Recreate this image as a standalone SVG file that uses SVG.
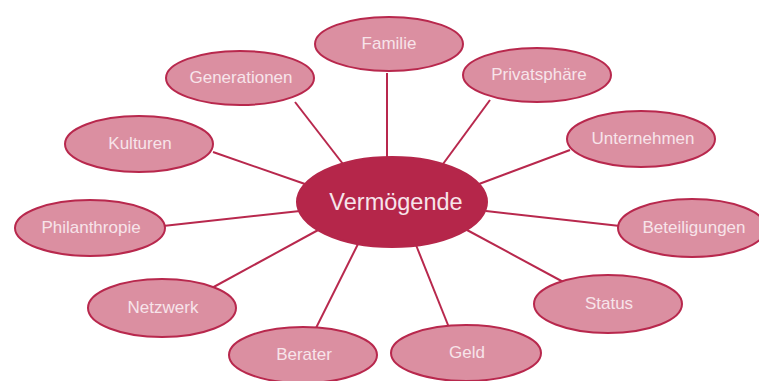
<svg xmlns="http://www.w3.org/2000/svg" width="759" height="381" viewBox="0 0 759 381">
<style>
.c{stroke:#B8284D;stroke-width:2;fill:none}
.n ellipse{fill:#DB8FA1;stroke:#B8284D;stroke-width:2}
.n text{font-family:"Liberation Sans",Arial,sans-serif;font-size:17px;fill:#F7E4EA;text-anchor:middle}
#center ellipse{fill:#B5264A;stroke:#B5264A}
#center text{font-size:23.5px}
</style>
<rect width="759" height="381" fill="#fff"/>
<g id="connectors" class="c">
<line x1="387" y1="73" x2="387" y2="160"/>
<line x1="295" y1="102" x2="343" y2="164"/>
<line x1="490" y1="100" x2="443" y2="164"/>
<line x1="213" y1="152" x2="305" y2="184"/>
<line x1="570" y1="150" x2="479" y2="184"/>
<line x1="163" y1="226" x2="300" y2="211"/>
<line x1="486" y1="211" x2="620" y2="226"/>
<line x1="210" y1="289" x2="320" y2="229"/>
<line x1="567" y1="284" x2="467" y2="230"/>
<line x1="315" y1="330" x2="358" y2="244"/>
<line x1="450" y1="330" x2="416" y2="245"/>
</g>
<g id="center" class="n"><ellipse cx="392" cy="202" rx="95" ry="45"/><text x="396" y="210">Vermögende</text></g>
<g id="familie" class="n"><ellipse cx="389" cy="44" rx="74" ry="27"/><text x="389" y="49">Familie</text></g>
<g id="generationen" class="n"><ellipse cx="240" cy="78" rx="74" ry="27"/><text x="241" y="83">Generationen</text></g>
<g id="privatsphaere" class="n"><ellipse cx="537" cy="75" rx="74" ry="27"/><text x="539" y="80">Privatsphäre</text></g>
<g id="kulturen" class="n"><ellipse cx="139" cy="144" rx="74" ry="28"/><text x="140" y="149">Kulturen</text></g>
<g id="unternehmen" class="n"><ellipse cx="641" cy="139" rx="74" ry="28"/><text x="643" y="144">Unternehmen</text></g>
<g id="philanthropie" class="n"><ellipse cx="90" cy="228" rx="75" ry="28"/><text x="91" y="233">Philanthropie</text></g>
<g id="beteiligungen" class="n"><ellipse cx="692" cy="228" rx="74" ry="29"/><text x="694" y="233">Beteiligungen</text></g>
<g id="netzwerk" class="n"><ellipse cx="162" cy="308" rx="74" ry="29"/><text x="163" y="313">Netzwerk</text></g>
<g id="status" class="n"><ellipse cx="608" cy="304" rx="74" ry="29"/><text x="609" y="309">Status</text></g>
<g id="berater" class="n"><ellipse cx="303" cy="355" rx="74" ry="28"/><text x="304" y="360">Berater</text></g>
<g id="geld" class="n"><ellipse cx="466" cy="353" rx="75" ry="28"/><text x="467" y="358">Geld</text></g>
</svg>
